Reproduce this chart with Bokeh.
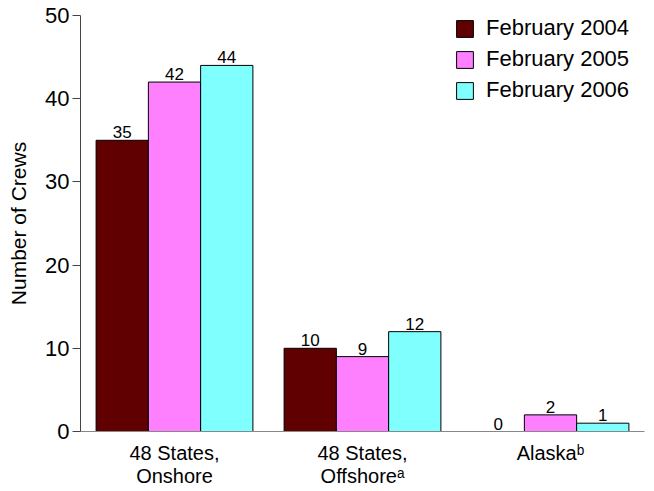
from bokeh.plotting import figure
from bokeh.models import ColumnDataSource, FactorRange, Range1d, FixedTicker, Legend, LegendItem, LabelSet
from bokeh.core.properties import value
from bokeh.transform import dodge
from bokeh.embed import file_html
from bokeh.resources import INLINE

categories = ["48 States,\nOnshore", "48 States,\nOffshoreᵃ", "Alaskaᵇ"]
series = ["February 2004", "February 2005", "February 2006"]
feb2004 = [35, 10, 0]
feb2005 = [42, 9, 2]
feb2006 = [44, 12, 1]
colors = ["#600000", "#FF80FF", "#80FFFF"]
y_ticks = [0, 10, 20, 30, 40, 50]

FONT = "Liberation Sans"

src = ColumnDataSource(data=dict(
    cat=categories,
    s0=feb2004, s1=feb2005, s2=feb2006,
    t0=[str(v) for v in feb2004], t1=[str(v) for v in feb2005], t2=[str(v) for v in feb2006],
))

p = figure(
    x_range=FactorRange(factors=categories, range_padding=0),
    y_range=Range1d(0, 50),
    frame_width=564, frame_height=416,
    min_border_left=80, min_border_right=2, min_border_top=15, min_border_bottom=55,
    output_backend="svg", toolbar_location=None,
)
p.outline_line_color = None
p.xgrid.visible = False
p.ygrid.visible = False
p.background_fill_color = "white"
p.border_fill_color = "white"

bw = 0.278
offsets = [-bw, 0.0, bw]
items = []
for i, (name, col) in enumerate(zip(series, colors)):
    r = p.vbar(x=dodge("cat", offsets[i], range=p.x_range), top=f"s{i}", width=bw, source=src,
               fill_color=col, line_color="black", line_width=1)
    items.append(LegendItem(label=name, renderers=[r]))
    lbl = LabelSet(x=dodge("cat", offsets[i], range=p.x_range), y=f"s{i}", text=f"t{i}", source=src,
                   text_align="center", text_baseline="bottom", y_offset=2,
                   text_font=value(FONT), text_font_size="17px", text_color="black")
    p.add_layout(lbl)

legend = Legend(items=items, location=(374, 328), padding=0, margin=0, spacing=5,
                glyph_width=21, glyph_height=21, label_standoff=11,
                label_text_font=FONT, label_text_font_size="22px", label_height=21,
                label_text_color="black",
                border_line_alpha=0, background_fill_alpha=0)
p.add_layout(legend)

# y axis
p.yaxis.ticker = FixedTicker(ticks=y_ticks)
p.yaxis.minor_tick_line_color = None
p.yaxis.major_tick_in = 0
p.yaxis.major_tick_out = 8
p.yaxis.major_tick_line_color = "#444444"
p.yaxis.axis_line_color = "#444444"
p.yaxis.major_label_text_font = FONT
p.yaxis.major_label_text_font_size = "22px"
p.yaxis.major_label_text_color = "black"
p.yaxis.major_label_standoff = 3
p.yaxis.axis_label = "Number of Crews"
p.yaxis.axis_label_text_font = FONT
p.yaxis.axis_label_text_font_size = "21px"
p.yaxis.axis_label_text_font_style = "normal"
p.yaxis.axis_label_text_color = "black"
p.yaxis.axis_label_standoff = 12

# x axis
p.xaxis.major_tick_line_color = None
p.xaxis.minor_tick_line_color = None
p.xaxis.major_tick_out = 0
p.xaxis.axis_line_color = "#888888"
p.xaxis.major_label_text_font = FONT
p.xaxis.major_label_text_font_size = "20px"
p.xaxis.major_label_text_color = "black"
p.xaxis.major_label_text_line_height = 1.05
p.xaxis.major_label_standoff = 10
p.xaxis.major_label_orientation = "horizontal"

open("out.html", "w").write(file_html(p, INLINE))
